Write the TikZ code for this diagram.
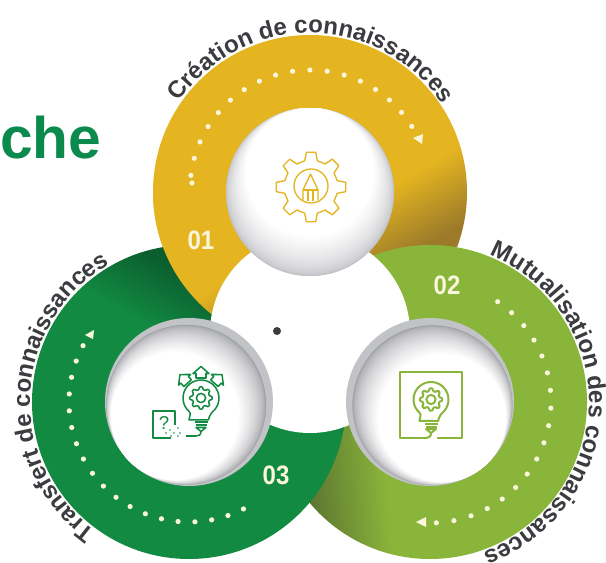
\documentclass[tikz,border=0pt]{standalone}
\usepackage{fontspec}
\setmainfont{Liberation Sans}
\usetikzlibrary{decorations.text}
\definecolor{goldc}{HTML}{E4B520}
\definecolor{brownc}{HTML}{9C7A2A}
\definecolor{greenc}{HTML}{128A42}
\definecolor{dgreenc}{HTML}{0B5E2E}
\definecolor{lgreenc}{HTML}{8AB53B}
\definecolor{olivec}{HTML}{5C7530}
\definecolor{rimc}{HTML}{C2C3C7}
\definecolor{shadec}{HTML}{A0A1A6}
\definecolor{labc}{HTML}{3A3C40}
\definecolor{titlec}{HTML}{0A8A4C}
\definecolor{creamc}{HTML}{FBF5DC}
\pgfdeclarehorizontalshading{goldring}{100bp}{color(0bp)=(goldc); color(54.4bp)=(goldc); color(63.1bp)=(brownc); color(100bp)=(brownc)}
\pgfdeclarehorizontalshading{greenring}{100bp}{color(0bp)=(greenc); color(55.6bp)=(greenc); color(63.75bp)=(dgreenc); color(100bp)=(dgreenc)}
\pgfdeclarehorizontalshading{lgreenring}{100bp}{color(0bp)=(lgreenc); color(56.25bp)=(lgreenc); color(66.25bp)=(olivec); color(100bp)=(olivec)}
\tikzset{
  numlab/.style={font=\fontsize{20}{20}\selectfont\bfseries,text=creamc,inner sep=0pt,xscale=.9},
  icongold/.style={draw=goldc,line width=1pt,line join=round},
  icongreen/.style={draw=greenc,line width=1.15pt,line join=round},
  iconlgreen/.style={draw=lgreenc,line width=1.5pt,line join=round},
}
\newcommand\ringfill[4]{%
  \begin{scope}
    \clip (#1,#2) circle[radius=157];
    \shade[shading=#3,shading angle=#4] ({#1-200},{#2-200}) rectangle ({#1+200},{#2+200});
  \end{scope}
}
\newcommand\innerdisc[7]{%
  \fill[rimc] (#1,#2) circle[radius=84];
  \foreach \ii in {0,...,30}{
    \pgfmathsetmacro\ff{\ii/30}
    \pgfmathsetmacro\dd{#5+\ff*#6}
    \pgfmathsetmacro\mm{100*\ff^.6}
    \fill[white!\mm!#7] ({#1+#3*\dd},{#2+#4*\dd}) circle[radius={84-\dd}];
  }
}
\newcommand\dotarc[6]{%
  \foreach \ii in {0,...,#6}{
    \pgfmathsetmacro\aa{#4+(#5-#4)*\ii/#6}
    \fill[creamc] ({#1+#3*cos(\aa)},{#2-#3*sin(\aa)}) circle[radius=2.6];
  }
}
\newcommand\gearshape[6]{%
  \pgfmathsetmacro\ww{360/#5}
  \draw[#6] ({#1+#3*cos(-.3*\ww)},{#2+#3*sin(-.3*\ww)})
  \foreach \ii in {1,...,#5}{
    -- ({#1+#4*cos((\ii-1)*\ww-.17*\ww)},{#2+#4*sin((\ii-1)*\ww-.17*\ww)})
    -- ({#1+#4*cos((\ii-1)*\ww+.17*\ww)},{#2+#4*sin((\ii-1)*\ww+.17*\ww)})
    -- ({#1+#3*cos((\ii-1)*\ww+.3*\ww)},{#2+#3*sin((\ii-1)*\ww+.3*\ww)})
    -- ({#1+#3*cos(\ii*\ww-.3*\ww)},{#2+#3*sin(\ii*\ww-.3*\ww)})
  } -- cycle;
}
\newcommand\bulbshape[4]{%
  \draw[#4] ({#1+#3*cos(130)},{#2+#3*sin(130)})
     arc[start angle=130,end angle=410,radius=#3]
     .. controls +(-2,2) and +(0,-2) .. ++(-4,8) -- ++({-2*(#3*sin(50)-4)},0)
     .. controls +(0,-2) and +(2,2) .. ({#1+#3*cos(130)},{#2+#3*sin(130)});
  \draw[#4] ({#1-6.5},{#2+24}) -- ({#1+6.5},{#2+24});
  \draw[#4] ({#1-5.5},{#2+27}) -- ({#1+5.5},{#2+27});
  \draw[#4] ({#1-5},{#2+29.5}) -- ({#1+5},{#2+29.5}) -- ({#1},{#2+33.5}) -- cycle;
  \gearshape{#1}{#2}{8.7}{11.3}{8}{#4,rounded corners=.6pt}
  \draw[#4] (#1,#2) circle[radius=4.6];
}
\begin{document}
\begin{tikzpicture}[x=.75pt,y=-.75pt]
\path[use as bounding box] (0,0) rectangle (606,563);
\clip (0,0) rectangle (606,563);
\fill[white] (0,0) rectangle (606,563);
% title fragment
\node[anchor=base west,inner sep=0pt,text=titlec,font=\fontsize{44}{44}\selectfont\bfseries] (title) at (0,158) {che};
% rings: each one passes under the next
\ringfill{310}{192}{goldring}{-60}
\ringfill{430}{402}{lgreenring}{185}
\ringfill{189}{402}{greenring}{60}
\begin{scope}
  \clip (100,200) rectangle (300,345);
  \ringfill{310}{192}{goldring}{-60}
\end{scope}
% central white
\fill[white] (310,333) circle[radius=100];
\fill[labc] (277,331) circle[radius=4];
% inner discs
\innerdisc{310}{192}{0}{-1}{0}{20}{rimc}
\innerdisc{189}{402}{-.7}{.7}{4}{16}{shadec}
\innerdisc{430}{402}{.6}{.8}{4}{16}{shadec}
% dotted arcs
\dotarc{310}{190}{120}{173}{32}{17}
\fill[creamc] (192,183) circle[radius=2.6];
\fill[creamc] (413,138) -- (423,134) -- (422,144) -- cycle;
\dotarc{189}{402}{120}{-63}{-208}{18}
\fill[creamc] (85,335) -- (94,330) -- (93,339) -- cycle;
\dotarc{430}{402}{121}{56}{-87}{17}
\fill[creamc] (416,522) -- (426,517) -- (426,527) -- cycle;
% numbers
\node[numlab] (n1) at (201,240) {01};
\node[numlab] (n2) at (447,285) {02};
\node[numlab] (n3) at (276,475) {03};
% gold gear icon
\gearshape{311}{187}{27}{35}{8}{icongold}
\draw[icongold] (311,186) circle[radius=17];
\draw[icongold] (303,200) -- (303,190) -- (310.5,174) -- (318,190) -- (318,200);
\draw[icongold] (303,190) -- (318,190);
\draw[icongold] (308,190) -- (308,201) (313,190) -- (313,201);
% green icon
\bulbshape{201}{398}{18}{icongreen}
\foreach \ang in {-42,0,42}{
  \begin{scope}[rotate around={\ang:(201,398)}]
    \draw[icongreen] (201,366.5) -- (209,373.5) -- (206,373.5) -- (206,378) -- (196,378) -- (196,373.5) -- (193,373.5) -- cycle;
  \end{scope}
}
\draw[icongreen] (171,438) -- (153,438) -- (153,411) -- (175,411) -- (175,425);
\node[inner sep=0pt,text=greenc,font=\fontsize{14}{14}\selectfont] (q) at (164,423) {?};
\foreach \px/\py in {166/433,170/430,174/433,178/428,180/433,171/436,178/436}{
  \fill[greenc] (\px,\py) circle[radius=.9];
}
\draw[icongreen] (201,431) .. controls (201,435) and (199,436) .. (196,436) -- (186,436);
% light green icon
\draw[iconlgreen] (423,438) -- (399.5,438) -- (399.5,371.5) -- (461.5,371.5) -- (461.5,438) -- (437,438);
\bulbshape{431}{399.5}{17.5}{iconlgreen}
\draw[iconlgreen] (423,438) .. controls (429,438) and (431,437) .. (431,433);
% curved labels
\begin{scope}[shift={(0,563)},y=.75pt]
  \path[decorate,decoration={text along path,text align=center,
    text={|\fontsize{18}{18}\selectfont\bfseries\color{labc}|Création de connaissances}}]
    (310,371) ++(147:159) arc[start angle=147,end angle=32,radius=159];
  \path[decorate,decoration={text along path,text align=center,
    text={|\fontsize{18}{18}\selectfont\bfseries\color{labc}|Transfert de connaissances}}]
    (189,161) ++(234:159) arc[start angle=234,end angle=120,radius=159];
  \path[decorate,decoration={text along path,text align=left,
    text={|\fontsize{18.15}{18.15}\selectfont\bfseries\color{labc}|Mutualisation des connaissances}}]
    (430,161) ++(68:159) arc[start angle=68,end angle=-85,radius=159];
\end{scope}
\end{tikzpicture}
\end{document}
